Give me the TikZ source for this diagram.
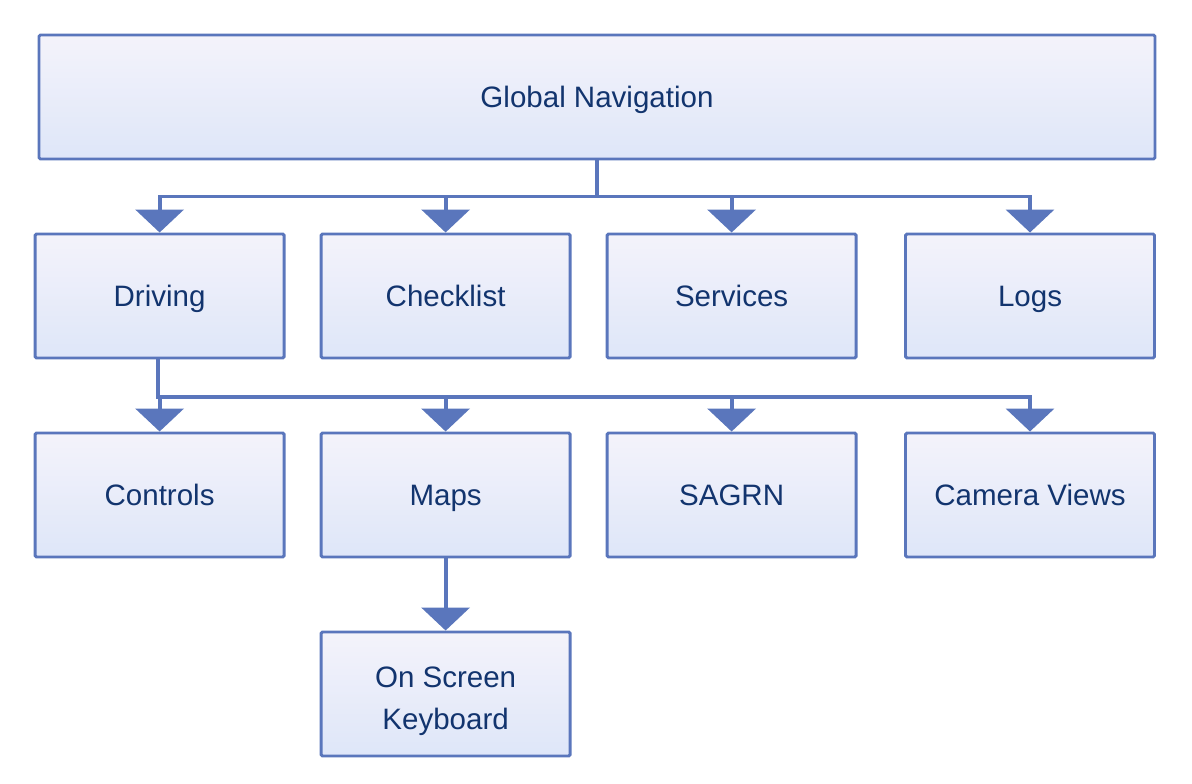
\documentclass[tikz,border=0pt]{standalone}
\usepackage{fontspec}
\setmainfont{Liberation Sans}
\usepackage{tikz}
\usetikzlibrary{
	arrows.meta,
	positioning,
	calc
}
\usepackage{xcolor}
\definecolor{navborder}{HTML}{5A76BC}
\definecolor{navtop}{HTML}{F4F3FA}
\definecolor{navbottom}{HTML}{DEE6F9}
\definecolor{navtext}{HTML}{12346E}

\begin{document}
\begin{tikzpicture}[
		>={Triangle[length=0.575cm,width=1.2cm]},
		box/.style={
			draw=navborder,
			line width=2.1pt,
			rounded corners=1pt,
			top color=navtop,
			bottom color=navbottom,
			text=navtext,
			align=center,
			font=\fontsize{21}{29.9}\selectfont,
			text height=15.1pt,
			text depth=0pt,
			minimum width=6.225cm,
			minimum height=3.1cm,
			inner sep=0pt
		},
		link/.style={
			->,
			draw=navborder,
			line width=2.8pt
		}
		]
		\useasboundingbox (0,0) rectangle (29.8,-19.575);
		
		% Top level
		\node[box,minimum width=27.9cm] (global) at (14.925,-2.425) {Global Navigation};
		
		% Sections
		\node[box] (driving) at (3.99,-7.4) {Driving};
		\node[box] (checklist) at (11.14,-7.4) {Checklist};
		\node[box] (services) at (18.29,-7.4) {Services};
		\node[box] (logs) at (25.75,-7.4) {Logs};
		
		% Driving pages
		\node[box] (controls) at (3.99,-12.375) {Controls};
		\node[box] (maps) at (11.14,-12.375) {Maps};
		\node[box] (sagrn) at (18.29,-12.375) {SAGRN};
		\node[box] (camera) at (25.75,-12.375) {Camera Views};
		
		% Keyboard
		\node[box,text height=51.2pt] (keyboard) at (11.14,-17.35) {On Screen\\Keyboard};
		
		\coordinate (bus1) at ($(global.south)+(0,-0.9)$);
		\coordinate (bus2) at ($(driving.south)+(-0.03,-0.93)$);
		
		\foreach \n in {driving,checklist,services,logs}
		\draw[link] (global.south) -- (bus1) -| (\n.north);
		
		\foreach \n in {controls,maps,sagrn,camera}
		\draw[link] ([xshift=-0.03cm]driving.south) -- (bus2) -| (\n.north);
		
		\draw[link] (maps.south) -- (keyboard.north);
		
	\end{tikzpicture}
\end{document}
